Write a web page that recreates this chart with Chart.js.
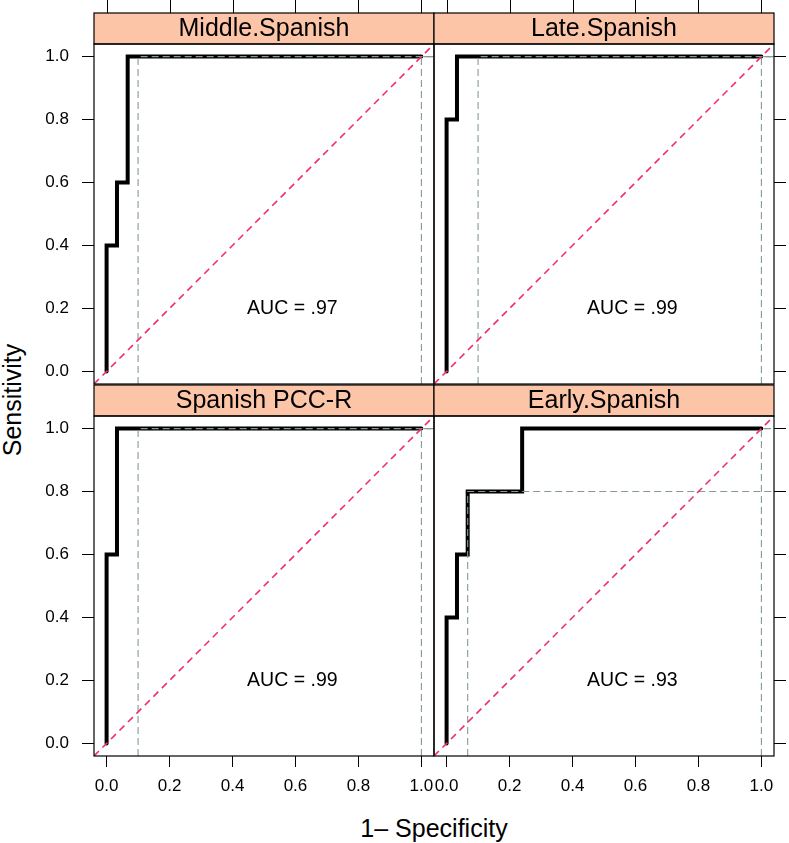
<!DOCTYPE html>
<html>
<head>
<meta charset="utf-8">
<script src="https://cdn.jsdelivr.net/npm/chart.js@4.4.0/dist/chart.umd.min.js"></script>
<style>
  body { margin: 0; background: #fff; }
  #wrap { position: relative; width: 789px; height: 843px; font-family: "Liberation Sans", Arial, sans-serif; }
  #wrap canvas { position: absolute; left: 0; top: 0; }
  .title { position: absolute; color: #000; font-size: 25px; white-space: nowrap; }
  #xtitle { left: 434px; top: 828px; transform: translate(-50%, -50%); }
  #ytitle { left: 12px; top: 400px; transform: translate(-50%, -50%) rotate(-90deg); }
  .toptick { position: absolute; top: 0; width: 1px; background: #000; z-index: 5; }
</style>
</head>
<body>
<div id="wrap">
  <div class="title" id="xtitle">1– Specificity</div>
  <div class="title" id="ytitle">Sensitivity</div>
</div>
<script>
// datos
var panelNames = ['Middle.Spanish', 'Late.Spanish', 'Spanish PCC-R', 'Early.Spanish'];
var aucLabels = ['AUC = .97', 'AUC = .99', 'AUC = .99', 'AUC = .93'];

// curvas ROC (1 - especificidad, sensibilidad)
var middleFpr = [0, 0, 0.033, 0.067, 1];
var middleTpr = [0, 0.4, 0.6, 1, 1];
var lateFpr = [0, 0, 0.033, 1];
var lateTpr = [0, 0.8, 1, 1];
var pccFpr = [0, 0, 0.033, 1];
var pccTpr = [0, 0.6, 1, 1];
var earlyFpr = [0, 0, 0.033, 0.067, 0.24, 1];
var earlyTpr = [0, 0.4, 0.6, 0.8, 1, 1];

// puntos de corte marcados con lineas grises
var cutFpr = [0.1, 0.1, 0.1, 0.067];
var cutTpr = [1, 1, 1, 0.8];
var endFpr = 1;
var endTpr = 1;

var tickValues = [0, 0.2, 0.4, 0.6, 0.8, 1];
var axisMin = -0.04;
var axisMax = 1.04;
var aucX = 0.59;
var aucY = 0.2;

// estilo
var W = 789, H = 843;
var colLeft = [94, 434];
var rowTop = [44, 416];
var side = 340;
var stripH = 31;
var stripColor = '#FDC5A8';
var greyColor = '#86999A';
var redColor = '#F0306A';
var fontFamily = '"Liberation Sans", Arial, sans-serif';

Chart.defaults.font.family = fontFamily;
Chart.defaults.color = '#000';

function toPoints(xs, ys) {
  return xs.map(function (x, i) { return { x: x, y: ys[i] }; });
}

// Plugin de cada panel: marcas superiores, tira del título, marco y texto del AUC
function makeDecor(i, row) {
  return {
    id: 'panelDecor' + i,
    afterDraw: function (chart) {
      var a = chart.chartArea;
      var c = chart.ctx;
      var stripTop = a.top - stripH;
      c.save();
      if (row === 0) {
        c.fillStyle = '#000';
        tickValues.forEach(function (v) {
          c.fillRect(Math.round(chart.scales.x.getPixelForValue(v)), 0, 1, stripTop);
        });
      }
      c.fillStyle = stripColor;
      c.fillRect(a.left, stripTop, a.right - a.left, stripH);
      c.strokeStyle = '#000';
      c.lineWidth = 1.2;
      c.strokeRect(a.left, stripTop, a.right - a.left, stripH);
      c.strokeRect(a.left, a.top, a.right - a.left, a.bottom - a.top);

      c.fillStyle = '#000';
      c.textAlign = 'center';
      c.textBaseline = 'middle';
      c.font = '25px ' + fontFamily;
      c.fillText(panelNames[i], (a.left + a.right) / 2, stripTop + stripH / 2 + 1);

      c.font = '19.5px ' + fontFamily;
      c.fillText(aucLabels[i], chart.scales.x.getPixelForValue(aucX), chart.scales.y.getPixelForValue(aucY));
      c.restore();
    }
  };
}

function makePanel(i, fpr, tpr) {
  var row = Math.floor(i / 2), col = i % 2;
  var canvas = document.createElement('canvas');
  canvas.width = W;
  canvas.height = H;
  document.getElementById('wrap').appendChild(canvas);

  var left = colLeft[col], top = rowTop[row];
  var yAxisW = col === 0 ? left : 12;
  var xAxisH = row === 0 ? top : 45;
  var padding = {
    left: col === 0 ? 0 : left,
    right: col === 0 ? W - left - side : W - left - side - yAxisW,
    top: row === 0 ? 0 : top,
    bottom: row === 0 ? H - top - side : H - top - side - xAxisH
  };

  var setTicks = function (s) { s.ticks = tickValues.map(function (v) { return { value: v }; }); };

  var chart = new Chart(canvas.getContext('2d', { willReadFrequently: true }), {
    type: 'line',
    data: {
      datasets: [
        {
          data: toPoints([axisMin, axisMax], [axisMin, axisMax]),
          borderColor: redColor, borderWidth: 1.6, borderDash: [7, 5], pointRadius: 0
        },
        {
          data: toPoints([cutFpr[i], cutFpr[i], axisMax], [axisMin, cutTpr[i], cutTpr[i]]),
          borderColor: greyColor, borderWidth: 1.1, borderDash: [7, 4], pointRadius: 0
        },
        {
          data: toPoints([endFpr, endFpr, axisMax], [axisMin, endTpr, endTpr]),
          borderColor: greyColor, borderWidth: 1.1, borderDash: [7, 4], pointRadius: 0
        },
        {
          data: toPoints(fpr, tpr),
          borderColor: '#000', borderWidth: 4, pointRadius: 0, stepped: 'before',
          borderCapStyle: 'round', borderJoinStyle: 'miter'
        }
      ]
    },
    options: {
      responsive: false,
      animation: false,
      events: [],
      layout: { padding: padding },
      plugins: {
        legend: { display: false },
        tooltip: { enabled: false }
      },
      scales: {
        x: {
          type: 'linear',
          position: row === 0 ? 'top' : 'bottom',
          min: axisMin, max: axisMax,
          afterBuildTicks: setTicks,
          afterFit: function (s) { s.height = xAxisH; },
          border: { display: false },
          grid: { display: row === 1, drawOnChartArea: false, drawTicks: true, tickLength: 11, color: '#000', lineWidth: 1 },
          ticks: {
            display: row === 1, autoSkip: false, maxRotation: 0, minRotation: 0, padding: 9,
            color: '#000', font: { size: 17 },
            callback: function (v) { return Number(v).toFixed(1); }
          }
        },
        y: {
          type: 'linear',
          position: col === 0 ? 'left' : 'right',
          min: axisMin, max: axisMax,
          afterBuildTicks: setTicks,
          afterFit: function (s) { s.width = yAxisW; },
          border: { display: false },
          grid: { display: true, drawOnChartArea: false, drawTicks: true, tickLength: 12, color: '#000', lineWidth: 1 },
          ticks: {
            display: col === 0, padding: 13, color: '#000', font: { size: 17 },
            callback: function (v) { return Number(v).toFixed(1); }
          }
        }
      }
    },
    plugins: [makeDecor(i, row)]
  });

  // marcas superiores también como elementos HTML, situadas con la escala del gráfico
  if (row === 0) {
    tickValues.forEach(function (v) {
      var d = document.createElement('div');
      d.className = 'toptick';
      d.style.left = Math.round(chart.scales.x.getPixelForValue(v)) + 'px';
      d.style.height = (chart.chartArea.top - stripH) + 'px';
      document.getElementById('wrap').appendChild(d);
    });
  }
  return chart;
}

makePanel(0, middleFpr, middleTpr);
makePanel(1, lateFpr, lateTpr);
makePanel(2, pccFpr, pccTpr);
makePanel(3, earlyFpr, earlyTpr);
</script>
</body>
</html>
